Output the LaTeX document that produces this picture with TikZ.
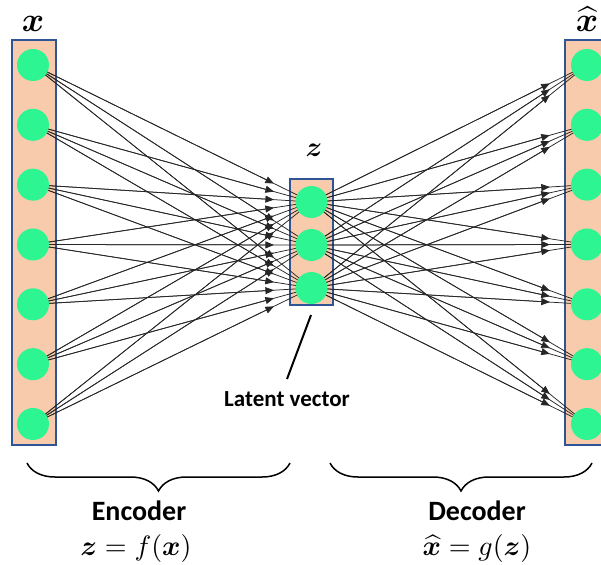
\documentclass[tikz,border=0pt]{standalone}
\usepackage{amsmath,bm}
\usepackage{fontspec}
\setsansfont{Carlito}
\usetikzlibrary{arrows.meta,calc,decorations.pathreplacing}
\pgfdeclarelayer{bg}
\pgfdeclarelayer{edges}
\pgfsetlayers{bg,edges,main}
\definecolor{peach}{RGB}{248,203,173}
\definecolor{boxblue}{RGB}{47,85,151}
\definecolor{nodegreen}{RGB}{45,245,145}
\tikzset{
  layer/.style={draw=boxblue, fill=peach, line width=1.6pt, inner sep=0},
  neuron/.style={circle, fill=nodegreen, minimum size=32pt, inner sep=0},
  conn/.style={line width=0.75pt, draw=black!85},
  tipped/.style={conn, -{Triangle[length=8.5pt,width=7pt]}},
  mathlbl/.style={inner sep=0, anchor=base},
  lbl/.style={font=\sffamily\bfseries\fontsize{23}{27}\selectfont, anchor=base, inner sep=0},
  biglbl/.style={font=\sffamily\bfseries\fontsize{28}{32}\selectfont, anchor=base, inner sep=0},
  brace/.style={decorate, decoration={brace, amplitude=28pt, mirror}, line width=1.5pt},
}
\begin{document}
\begin{tikzpicture}[x=1pt,y=-1pt]
\useasboundingbox (0,0) rectangle (601,564);
\clip (0,0) rectangle (601,564);
% layer boxes
\begin{pgfonlayer}{bg}
\node[layer, minimum width=44pt, minimum height=405pt] (X) at (34,242.5) {};
\node[layer, minimum width=43pt, minimum height=126pt] (Z) at (311.5,242) {};
\node[layer, minimum width=44pt, minimum height=405pt] (XH) at (587,242.5) {};
\end{pgfonlayer}
% neurons
\foreach \i in {1,...,7} {
  \node[neuron] (l\i) at (33,{65+59.83*(\i-1)}) {};
  \node[neuron] (r\i) at (587,{65+59.83*(\i-1)}) {};
}
\node[neuron] (m1) at (311.5,202) {};
\node[neuron] (m2) at (311.5,245) {};
\node[neuron] (m3) at (311.5,288) {};
% connections
\begin{pgfonlayer}{edges}
\foreach \i in {1,...,7} {
  \foreach \j in {1,2,3} {
    \draw[conn] (l\i.center) -- (m\j.center);
    \draw[tipped] (l\i.center) -- ($(l\i.center)!0.865!(m\j.center)$);
    \draw[conn] (m\j.center) -- (r\i.center);
    \draw[tipped] (m\j.center) -- ($(m\j.center)!0.865!(r\i.center)$);
  }
}
\end{pgfonlayer}
% titles
\node[mathlbl, scale=3.4] (tx) at (33,32) {$\bm{x}$};
\node[mathlbl, scale=2.8] (tz) at (314,157) {$\bm{z}$};
\node[mathlbl, scale=3.4] (txh) at (587,32) {$\widehat{\bm{x}}$};
% latent vector
\node[lbl] (lv) at (287,406) {Latent vector};
\coordinate (lvtop) at (311,315);
\coordinate (lvbot) at (287,379);
\draw[line width=2pt] (lvtop) -- (lvbot);
% braces
\coordinate (b1l) at (27,463);
\coordinate (b1r) at (290,463);
\coordinate (b2l) at (330,463);
\coordinate (b2r) at (592,463);
\draw[brace] (b1l) -- (b1r);
\draw[brace] (b2l) -- (b2r);
\node[biglbl] (enc) at (139,520) {Encoder};
\node[biglbl] (dec) at (477,520) {Decoder};
\node[mathlbl, scale=2.8] (encf) at (136,555.5) {$\bm{z} = f(\bm{x})$};
\node[mathlbl, scale=2.8] (decf) at (477,555.5) {$\widehat{\bm{x}} = g(\bm{z})$};
\end{tikzpicture}
\end{document}
